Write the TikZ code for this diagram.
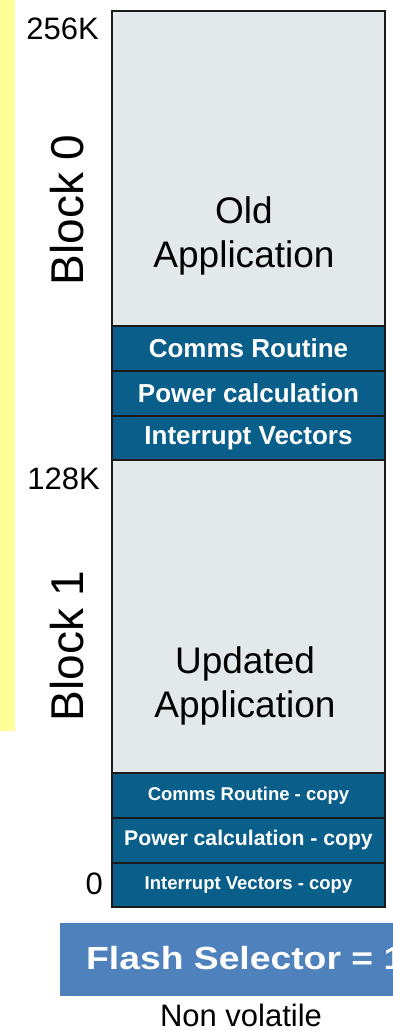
\documentclass[tikz,border=0pt]{standalone}
\usepackage{fontspec}
\usepackage{graphicx}
\setmainfont{Liberation Sans}
\definecolor{hiyellow}{HTML}{FFFF99}
\definecolor{memgray}{HTML}{E3E8EB}
\definecolor{memblue}{HTML}{0A5F8A}
\definecolor{selblue}{HTML}{4F81BD}
\definecolor{edge}{HTML}{1A1A1A}
\begin{document}
\begin{tikzpicture}[x=1pt,y=-1pt,
  region/.style={draw=edge,line width=2pt,fill=memgray,inner sep=0pt,minimum width=273pt,anchor=north west},
  seg/.style={draw=edge,line width=2pt,fill=memblue,inner sep=0pt,minimum width=273pt,anchor=north west,text=white,font=\bfseries},
  bigtxt/.style={font=\fontsize{37}{44}\selectfont,align=center,anchor=base,inner sep=0pt},
  lbl/.style={font=\fontsize{31}{36}\selectfont,anchor=base east,inner sep=0pt},
  blk/.style={font=\fontsize{46}{50}\selectfont,rotate=90,anchor=base,inner sep=0pt}]
\useasboundingbox (0,0) rectangle (393,1030);
\clip (0,0) rectangle (393,1030);
\fill[hiyellow] (0,0) rectangle (15,731);
% memory map
\node[region,minimum height=315pt] (old) at (111,10) {};
\node[seg,minimum height=45pt,font=\bfseries\fontsize{26}{30}\selectfont] (comms) at (111,325) {Comms Routine};
\node[seg,minimum height=45pt,font=\bfseries\fontsize{26}{30}\selectfont] (power) at (111,370) {Power calculation};
\node[seg,minimum height=44pt,font=\bfseries\fontsize{26}{30}\selectfont] (irq) at (111,415) {Interrupt Vectors};
\node[region,minimum height=313pt] (upd) at (111,459) {};
\node[seg,minimum height=45pt,font=\bfseries\fontsize{18.5}{22}\selectfont] (commsc) at (111,772) {Comms Routine - copy};
\node[seg,minimum height=45pt,font=\bfseries\fontsize{21.2}{25}\selectfont] (powerc) at (111,817) {Power calculation - copy};
\node[seg,minimum height=44pt,font=\bfseries\fontsize{18.5}{22}\selectfont] (irqc) at (111,862) {Interrupt Vectors - copy};
\node[bigtxt] (oldtxt) at (244,267) {Old\\Application};
\node[bigtxt] (updtxt) at (245,717) {Updated\\Application};
% addresses
\node[lbl] (a256) at (99,40) {256K};
\node[lbl] (a128) at (100,489) {128K};
\node[lbl] (a0) at (103,894) {0};
\node[blk] (b0) at (83,210) {Block 0};
\node[blk] (b1) at (83,646) {Block 1};
% selector
\fill[selblue] (60,923) rectangle (420,996);
\node[anchor=base west,inner sep=0pt,text=white,font=\bfseries\fontsize{32}{36}\selectfont] (sel) at (86,969) {\scalebox{1.165}[1]{Flash Selector = 1}};
\node[anchor=base,inner sep=0pt,font=\fontsize{31}{36}\selectfont] (nv) at (241,1026) {Non volatile};
\end{tikzpicture}
\end{document}
